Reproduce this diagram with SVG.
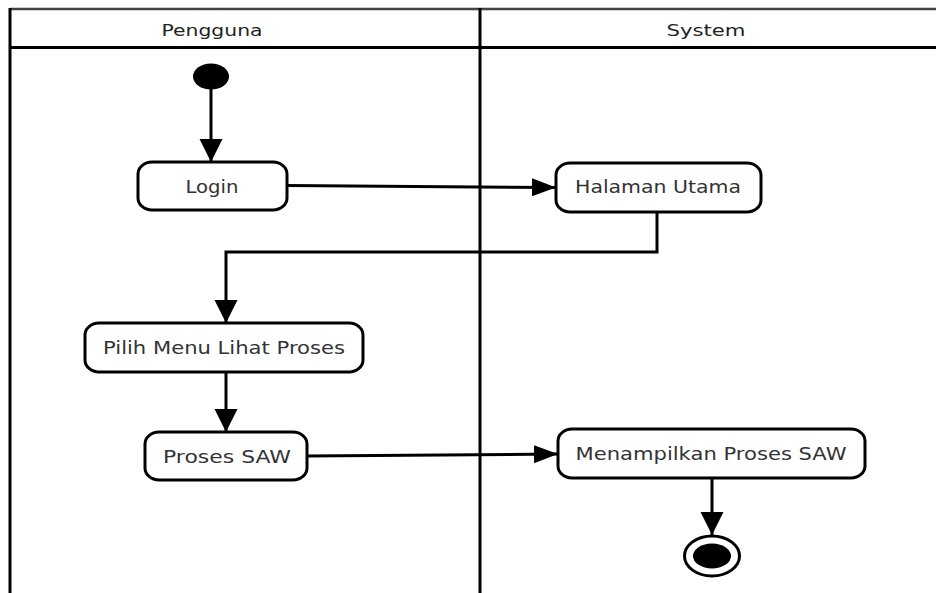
<svg xmlns="http://www.w3.org/2000/svg" width="936" height="593" viewBox="0 0 936 593">
<style>
.frame{stroke:#000;stroke-width:3;fill:none}
.node rect{fill:#fff;stroke:#000;stroke-width:3}
.lbl{font-family:"DejaVu Sans",Verdana,sans-serif;font-size:18px;fill:#333;text-anchor:middle}
.hdr{font-family:"DejaVu Sans",Verdana,sans-serif;font-size:16px;fill:#222;text-anchor:middle}
.conn{stroke:#000;stroke-width:3;fill:none}
</style>
<defs>
<marker id="av" markerUnits="userSpaceOnUse" markerWidth="24" markerHeight="24" refX="23" refY="11.5" orient="auto">
<path d="M0,0 L23,11.5 L0,23 z" fill="#000"/>
</marker>
<marker id="ah" markerUnits="userSpaceOnUse" markerWidth="24" markerHeight="20" refX="24" refY="9" orient="auto">
<path d="M0,0 L24,9 L0,18 z" fill="#000"/>
</marker>
</defs>
<rect width="936" height="593" fill="#fff"/>
<g id="swimlanes">
<line x1="10" y1="9" x2="936" y2="9" stroke="#444" stroke-width="2.5"/>
<line x1="10" y1="47.5" x2="936" y2="47.5" class="frame"/>
<line x1="10" y1="8" x2="10" y2="593" class="frame"/>
<line x1="480" y1="8" x2="480" y2="593" class="frame"/>
<text class="hdr" x="212" y="36" textLength="101" lengthAdjust="spacingAndGlyphs">Pengguna</text>
<text class="hdr" x="706" y="36" textLength="79" lengthAdjust="spacingAndGlyphs">System</text>
</g>
<g id="connectors">
<line class="conn" x1="211" y1="89" x2="211" y2="162" marker-end="url(#av)"/>
<line class="conn" x1="287" y1="185.5" x2="556" y2="187.5" marker-end="url(#ah)"/>
<path class="conn" d="M657,212 V252 H226 V323" marker-end="url(#av)"/>
<line class="conn" x1="226" y1="372" x2="226" y2="432" marker-end="url(#av)"/>
<line class="conn" x1="307" y1="456" x2="558" y2="454" marker-end="url(#ah)"/>
<line class="conn" x1="712" y1="478" x2="712" y2="535" marker-end="url(#av)"/>
</g>
<g id="start">
<ellipse cx="211" cy="76.5" rx="18" ry="13" fill="#000"/>
</g>
<g id="login" class="node">
<rect x="138" y="162" width="149" height="48" rx="14" ry="12"/>
<text class="lbl" x="212" y="193" textLength="53" lengthAdjust="spacingAndGlyphs">Login</text>
</g>
<g id="halaman-utama" class="node">
<rect x="556" y="163" width="205" height="49" rx="14" ry="12"/>
<text class="lbl" x="658" y="193" textLength="166" lengthAdjust="spacingAndGlyphs">Halaman Utama</text>
</g>
<g id="pilih-menu" class="node">
<rect x="85" y="323" width="278" height="49" rx="14" ry="12"/>
<text class="lbl" x="224" y="354" textLength="242" lengthAdjust="spacingAndGlyphs">Pilih Menu Lihat Proses</text>
</g>
<g id="proses-saw" class="node">
<rect x="145" y="432" width="162" height="48" rx="14" ry="12"/>
<text class="lbl" x="227" y="463" textLength="128" lengthAdjust="spacingAndGlyphs">Proses SAW</text>
</g>
<g id="menampilkan" class="node">
<rect x="558" y="429" width="307" height="49" rx="14" ry="12"/>
<text class="lbl" x="711" y="460" textLength="271" lengthAdjust="spacingAndGlyphs">Menampilkan Proses SAW</text>
</g>
<g id="end">
<ellipse cx="712" cy="556" rx="27.5" ry="20" fill="#fff" stroke="#000" stroke-width="3"/>
<ellipse cx="712" cy="556" rx="19" ry="12.5" fill="#000"/>
</g>
</svg>
